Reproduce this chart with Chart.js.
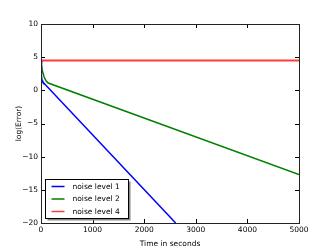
<!DOCTYPE html>
<html>
<head>
<meta charset="utf-8">
<script src="https://cdn.jsdelivr.net/npm/chart.js@4/dist/chart.umd.min.js"></script>
<style>
  html, body { margin: 0; padding: 0; background: #fff; }
  #wrap { width: 332px; height: 249px; }
</style>
</head>
<body>
<div id="wrap"><canvas id="chart-1" width="332" height="249"></canvas></div>
<script>
// values (time in seconds, log error)
var seriesNames = ['noise level 1', 'noise level 2', 'noise level 4'];
var seriesColors = ['#0000ff', '#008000', '#ff3b3b'];
var blueX = [0, 8, 20, 35, 2610];
var blueY = [4.5, 2.2, 1.5, 1.25, -20];
var greenX = [0, 25, 60, 100, 140, 5000];
var greenY = [4.3, 3.0, 2.0, 1.4, 1.1, -12.7];
var redX = [0, 10, 5000];
var redY = [4.2, 4.5, 4.5];
var xTicks = [0, 1000, 2000, 3000, 4000, 5000];
var yTicks = [-20, -15, -10, -5, 0, 5, 10];

function toPoints(xs, ys) {
  var pts = [];
  for (var i = 0; i < xs.length; i++) pts.push({x: xs[i], y: ys[i]});
  return pts;
}

var FONT = 'DejaVu Sans';

// frame, inward ticks on all four sides and the legend box, like matplotlib
var mplLook = {
  id: 'mplLook',
  afterDraw: function (chart) {
    var c = chart.ctx, a = chart.chartArea;
    var xs = chart.scales.x, ys = chart.scales.y;
    c.save();
    c.strokeStyle = '#000';
    c.lineWidth = 1;
    c.beginPath();
    xTicks.forEach(function (v) {
      var px = Math.round(xs.getPixelForValue(v)) + 0.5;
      c.moveTo(px, a.bottom); c.lineTo(px, a.bottom - 4);
      c.moveTo(px, a.top); c.lineTo(px, a.top + 4);
    });
    yTicks.forEach(function (v) {
      var py = Math.round(ys.getPixelForValue(v)) + 0.5;
      c.moveTo(a.left, py); c.lineTo(a.left + 4, py);
      c.moveTo(a.right, py); c.lineTo(a.right - 4, py);
    });
    c.stroke();
    c.strokeStyle = '#222';
    c.strokeRect(Math.round(a.left) + 0.5, Math.round(a.top) + 0.5,
                 Math.round(a.right - a.left), Math.round(a.bottom - a.top));

    // legend in lower left
    var bx = a.left + 4.5, by = a.bottom - 43.5, bw = 83, bh = 39;
    c.fillStyle = '#888';
    c.fillRect(bx + 2, by + 2, bw, bh);
    c.fillStyle = '#fff';
    c.fillRect(bx, by, bw, bh);
    c.strokeStyle = '#000';
    c.strokeRect(bx, by, bw, bh);
    c.font = '7.5px ' + FONT;
    c.textBaseline = 'middle';
    chart.data.datasets.forEach(function (ds, i) {
      var ry = by + 7 + i * 12.5;
      c.strokeStyle = ds.borderColor;
      c.lineWidth = 1.5;
      c.beginPath();
      c.moveTo(bx + 6, ry); c.lineTo(bx + 19, ry);
      c.stroke();
      c.fillStyle = '#000';
      c.fillText(ds.label, bx + 27, ry + 0.5);
    });
    c.restore();
  }
};

function minus(v) {
  return v < 0 ? '\u2212' + Math.abs(v) : String(v);
}

const ctx1 = document.getElementById('chart-1').getContext('2d');
const myChart1 = new Chart(ctx1, {
  type: 'line',
  data: {
    datasets: [
      { label: seriesNames[0], data: toPoints(blueX, blueY), borderColor: seriesColors[0] },
      { label: seriesNames[1], data: toPoints(greenX, greenY), borderColor: seriesColors[1] },
      { label: seriesNames[2], data: toPoints(redX, redY), borderColor: seriesColors[2], borderWidth: 2 }
    ]
  },
  options: {
    responsive: false,
    animation: false,
    elements: {
      point: { radius: 0 },
      line: { borderWidth: 1.5, tension: 0 }
    },
    layout: { padding: { left: 15, top: 24, right: 33, bottom: 0 } },
    plugins: { legend: { display: false }, tooltip: { enabled: false } },
    scales: {
      x: {
        type: 'linear',
        min: 0, max: 5000,
        afterBuildTicks: function (s) { s.ticks = xTicks.map(function (v) { return {value: v}; }); },
        afterFit: function (s) { s.height = 26; },
        grid: { display: false, drawTicks: false },
        border: { display: false },
        ticks: { color: '#000', font: { family: FONT, size: 7.5 }, padding: 3, maxRotation: 0,
                 callback: function (v) { return String(v); } },
        title: { display: true, text: 'Time in seconds', color: '#000', font: { family: FONT, size: 7.5 }, padding: { top: 1, bottom: 0 } }
      },
      y: {
        min: -20, max: 10,
        afterBuildTicks: function (s) { s.ticks = yTicks.map(function (v) { return {value: v}; }); },
        afterFit: function (s) { s.width = 26; },
        grid: { display: false, drawTicks: false },
        border: { display: false },
        ticks: { color: '#000', font: { family: FONT, size: 7.5 }, padding: 3, callback: minus },
        title: { display: true, text: 'log(Error)', color: '#000', font: { family: FONT, size: 7.5 }, padding: { top: 0, bottom: 0 } }
      }
    }
  },
  plugins: [mplLook]
});
</script>
</body>
</html>
